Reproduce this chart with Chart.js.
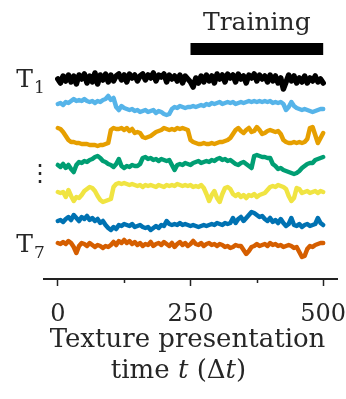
<!DOCTYPE html>
<html>
<head>
<meta charset="utf-8">
<script src="https://cdn.jsdelivr.net/npm/chart.js@4.4.1/dist/chart.umd.min.js"></script>
<style>
  html, body { margin: 0; padding: 0; background: #fff; }
  #wrap { width: 346px; height: 399px; }
</style>
</head>
<body>
<div id="wrap"><canvas id="chart"></canvas></div>
<script>
// one sample every 5 time steps, t = 0 .. 500
const sampleStep = 5;

const traceLabels = ["T1", "T2", "T3", "T4", "T5", "T6", "T7"];
const traceColors = ["#000000", "#56B4E9", "#E69F00", "#009E73", "#F0E442", "#0072B2", "#D55E00"];

// activity of each texture unit (arbitrary units)
const traceT1 = [0,-4,3,-2,4,-3,3,-5,4,0, 5,-4,3,-3,6,-5,4,-1,5,-3, 4,-2,3,5,-1,4,-3,5,1,4,
  -2,3,5,-1,4,1,6,-2,4,2, 5,-3,4,0,3,-2,4,-4,3,0, -3,-8,1,-4,3,-3,4,-2,3,-4,
  5,0,4,-3,5,1,4,-3,5,0, 3,-4,4,1,5,-2,4,0,3,-3, 4,-2,3,-4,1,-10,-3,4,-2,3,
  -4,1,-3,3,-4,1,-2,3,-3,0, -4];
const traceT2 = [0,1,-1,2,1,3,5,3,4,3, 5,3,2,3,1,3,2,4,5,8, 4,6,-3,-6,-2,-4,-5,-6,-5,-7,
  -6,-8,-7,-6,-8,-7,-6,-9,-7,-8, -10,-11,-10,-5,-3,-4,-2,-3,-4,-3, -3,-2,-3,-2,-1,-2,0,-1,1,0,
  1,2,0,1,2,1,2,0,1,2, 1,2,3,2,3,2,3,2,3,2, 3,1,2,1,2,0,-6,-3,2,-2,
  -4,-5,-6,-5,-6,-7,-8,-7,-6,-5, -5];
const traceT3 = [9,8,5,1,-3,-5,-5,-6,-6,-7, -7,-7,-8,-8,-8,-9,-8,-8,-7,-6, 7,9,8,8,9,7,9,6,8,4,
  5,4,0,-1,0,1,3,5,6,7, 9,8,7,8,7,9,8,9,8,7, -3,-5,-6,-7,-7,-6,-7,-7,-6,-7,
  -6,-5,-5,-4,-3,-1,3,7,9,6, 4,7,9,5,6,10,7,3,4,6, 7,6,5,6,3,-3,-5,-6,-6,-5,
  -6,-5,-6,-5,-2,9,10,2,-6,-1, 4];
const traceT4 = [-2,-4,-1,-5,-2,-6,-9,-2,1,0, 2,1,3,4,6,7,5,2,1,-1, -2,-4,-1,4,-3,-5,-3,-4,-2,-3,
  -3,-1,5,6,4,5,3,4,2,4, 3,2,3,-2,-7,-2,-1,-2,0,-1, -2,0,1,2,0,1,2,1,3,2,
  4,5,3,4,2,3,1,-1,-2,0, 1,-1,-3,-5,7,8,7,6,6,5, 5,-1,-3,-6,-5,-7,-8,-9,-10,-11,
  -10,-8,-5,-3,-1,0,0,3,4,5, 6];
const traceT5 = [0,-1,0,-5,2,-4,-9,-5,-6,-3, 1,3,5,4,1,-4,-8,-10,-9,-8, -7,5,8,9,8,9,8,7,8,7,
  6,7,5,7,6,7,6,5,7,6, 5,7,6,7,6,8,7,6,7,6, 7,5,6,5,7,4,-2,-9,-3,1,
  -6,-10,-2,4,5,3,-2,-4,-2,-5, -3,-6,-3,-4,-2,-5,-3,-2,-1,2, 5,6,5,7,6,5,3,-4,-9,-6,
  4,3,-1,0,1,-1,0,1,-1,1, 0];
const traceT6 = [1,2,0,3,5,2,7,4,1,5, 3,6,2,4,1,3,-1,1,-3,-6, -8,-5,-7,-3,-4,-2,-3,-4,-2,-5,
  -4,-3,-5,-6,-5,-8,-6,-4,-6,-3, -4,1,-2,-3,-2,-3,-1,-3,-2,-3, -4,-3,-4,-5,-4,-3,-4,-3,-2,-3,
  -1,-2,-3,-1,-2,-1,4,-1,3,5, 1,4,7,10,9,7,5,6,3,1, 4,0,2,-1,3,-1,-4,-2,4,-3,
  -4,-2,-5,-3,-2,-4,-3,-2,4,-1, -3];
const traceT7 = [1,0,2,0,3,1,-3,-9,-2,1, 0,-2,1,-1,-3,-1,-2,-4,-2,-3, -1,2,-1,3,1,4,1,3,0,2,
  -1,1,-2,0,-1,2,-2,0,1,-1, 2,0,-2,1,-3,0,2,-1,1,-2, 0,3,0,-1,1,-2,0,1,-1,0,
  -2,0,-1,-3,-2,-4,-3,-1,-2,-2, -6,-10,-7,-3,-2,0,-2,-1,0,-2, 1,-1,0,-2,-1,-3,-2,-1,-2,-4,
  -3,-8,-13,-12,-5,-2,-3,-1,0,1, 1];
const traces = [traceT1, traceT2, traceT3, traceT4, traceT5, traceT6, traceT7];

const xTickValues = [0, 250, 500];
const xMinorTickValues = [125, 375];
const trainingWindow = [250, 500];
const trainingLabel = "Training";

// vertical placement of each trace and of the training bar (layout only)
const traceBaselines = [200, 175, 142, 116, 87, 57, 35];
const trainingLevel = 230;

const SERIF = "'DejaVu Serif', 'Liberation Serif', serif";
const INK = "#262626";

const datasets = traces.map((vals, i) => ({
  label: traceLabels[i],
  data: vals.map((v, k) => ({ x: k * sampleStep, y: traceBaselines[i] + v })),
  borderColor: traceColors[i],
  borderWidth: i === 0 ? 5.5 : 4.5,
  pointRadius: 0,
  tension: 0,
  borderJoinStyle: "round",
  borderCapStyle: "round",
}));

datasets.push({
  label: trainingLabel,
  data: trainingWindow.map((x) => ({ x, y: trainingLevel })),
  borderColor: "#000000",
  borderWidth: 12,
  borderCapStyle: "butt",
  pointRadius: 0,
});

// labels, dots, minor ticks and the two-line axis title
const annotations = {
  id: "annotations",
  afterDraw(chart) {
    const { ctx, chartArea } = chart;
    const { x, y } = chart.scales;
    ctx.save();
    ctx.fillStyle = INK;
    ctx.textBaseline = "alphabetic";

    // Training label above the bar
    ctx.font = `25px ${SERIF}`;
    ctx.textAlign = "center";
    const midTrain = (trainingWindow[0] + trainingWindow[1]) / 2;
    ctx.fillText(trainingLabel, x.getPixelForValue(midTrain), y.getPixelForValue(trainingLevel) - 19);

    // T_1 and T_7
    [0, traces.length - 1].forEach((i) => {
      const py = y.getPixelForValue(traceBaselines[i]);
      ctx.font = `25px ${SERIF}`;
      ctx.textAlign = "right";
      ctx.fillText("T", 33, py + 8);
      ctx.font = `17px ${SERIF}`;
      ctx.textAlign = "left";
      ctx.fillText(traceLabels[i].slice(1), 34, py + 14);
    });

    // vertical ellipsis between T_1 and T_7
    const dotsY = (y.getPixelForValue(traceBaselines[3]) + y.getPixelForValue(traceBaselines[4])) / 2;
    ctx.font = "24px 'DejaVu Sans'";
    ctx.textAlign = "center";
    ctx.textBaseline = "middle";
    ctx.fillText("\u22EE", 40, dotsY - 3);

    // minor ticks
    ctx.strokeStyle = "#222";
    ctx.lineWidth = 1.5;
    xMinorTickValues.forEach((v) => {
      const px = Math.round(x.getPixelForValue(v)) + 0.5;
      ctx.beginPath();
      ctx.moveTo(px, chartArea.bottom);
      ctx.lineTo(px, chartArea.bottom + 4);
      ctx.stroke();
    });

    // axis title, with italic t
    ctx.textBaseline = "alphabetic";
    ctx.textAlign = "left";
    const cx = (chartArea.left + chartArea.right) / 2;
    ctx.font = `26px ${SERIF}`;
    const line1 = "Texture presentation";
    const w1 = ctx.measureText(line1).width;
    ctx.fillText(line1, cx - 3 - w1 / 2, chartArea.bottom + 68);

    const parts = [
      ["time ", false], ["t", true], [" (\u0394", false], ["t", true], [")", false],
    ];
    const fontFor = (it) => (it ? `italic 26px ${SERIF}` : `26px ${SERIF}`);
    let w2 = 0;
    parts.forEach(([s, it]) => { ctx.font = fontFor(it); w2 += ctx.measureText(s).width; });
    let px = cx - 12 - w2 / 2;
    parts.forEach(([s, it]) => {
      ctx.font = fontFor(it);
      ctx.fillText(s, px, chartArea.bottom + 99);
      px += ctx.measureText(s).width;
    });
    ctx.restore();
  },
};

new Chart(document.getElementById("chart"), {
  type: "line",
  data: { datasets },
  options: {
    responsive: true,
    maintainAspectRatio: false,
    animation: false,
    layout: { padding: { top: 35, left: 44, right: 9, bottom: 0 } },
    plugins: {
      legend: { display: false },
      tooltip: { enabled: false },
    },
    scales: {
      x: {
        type: "linear",
        min: -26,
        max: 526,
        afterFit: (scale) => {
          scale.height = 120;
          scale.paddingLeft = 0;
          scale.paddingRight = 0;
        },
        afterBuildTicks: (scale) => { scale.ticks = xTickValues.map((v) => ({ value: v })); },
        grid: { drawOnChartArea: false, drawTicks: true, tickLength: 7, tickWidth: 1.5, tickColor: "#222" },
        border: { display: true, color: "#222", width: 2 },
        ticks: {
          padding: 14,
          color: INK,
          maxRotation: 0,
          autoSkip: false,
          font: { family: SERIF, size: 24 },
        },
      },
      y: { display: false, min: 0, max: 244 },
    },
  },
  plugins: [annotations],
});
</script>
</body>
</html>
